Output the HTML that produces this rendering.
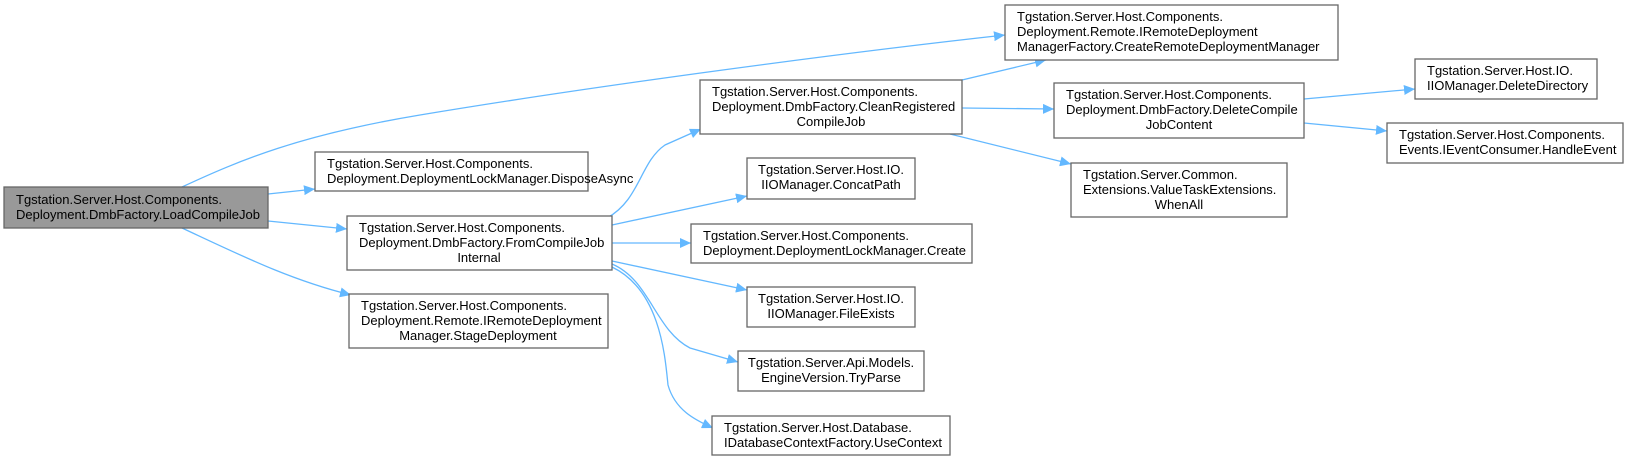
<!DOCTYPE html>
<html><head><meta charset="utf-8"><style>
html,body{margin:0;padding:0;background:#fff;}
svg{display:block;}
text{font-family:"Liberation Sans",Arial,sans-serif;font-size:13px;fill:#000;}
.n{fill:#fff;stroke:#666;stroke-width:1.3;}
.e{fill:none;stroke:#63b8ff;stroke-width:1.3;}
</style></head><body>
<svg width="1631" height="461" viewBox="0 0 1631 461" xmlns="http://www.w3.org/2000/svg">
<defs>
<marker id="a" markerUnits="userSpaceOnUse" markerWidth="12" markerHeight="10" refX="11" refY="5" orient="auto">
<path d="M0,0 L11,5 L0,10 Z" fill="#63b8ff"/>
</marker>
</defs>
<!-- edges -->
<path class="e" marker-end="url(#a)" d="M182,187 C240,160 300,135 420,115 C600,85 850,52 1005,35"/>
<path class="e" marker-end="url(#a)" d="M268,194 L315,189"/>
<path class="e" marker-end="url(#a)" d="M268,221 L347,229"/>
<path class="e" marker-end="url(#a)" d="M182,228 C240,255 290,280 351,295"/>
<path class="e" marker-end="url(#a)" d="M607,218 C640,200 640,162 665,145 L701,129"/>
<path class="e" marker-end="url(#a)" d="M612,225 L747,196"/>
<path class="e" marker-end="url(#a)" d="M612,243 L691,243"/>
<path class="e" marker-end="url(#a)" d="M612,261 L747,290"/>
<path class="e" marker-end="url(#a)" d="M612,264 C650,280 655,330 690,348 L738,362"/>
<path class="e" marker-end="url(#a)" d="M612,267 C660,290 665,355 668,385 C675,410 695,420 713,428"/>
<path class="e" marker-end="url(#a)" d="M962,80 L1046,60"/>
<path class="e" marker-end="url(#a)" d="M962,108 L1054,109"/>
<path class="e" marker-end="url(#a)" d="M950,134 L1071,164"/>
<path class="e" marker-end="url(#a)" d="M1304,99 L1415,89"/>
<path class="e" marker-end="url(#a)" d="M1304,123 L1387,131"/>
<!-- nodes -->
<rect x="4" y="187" width="264" height="41" fill="#999" stroke="#666" stroke-width="1.3"/>
<text x="16" y="204">Tgstation.Server.Host.Components.</text>
<text x="16" y="219">Deployment.DmbFactory.LoadCompileJob</text>

<rect class="n" x="315" y="152" width="273" height="39"/>
<text x="327" y="168">Tgstation.Server.Host.Components.</text>
<text x="327" y="183">Deployment.DeploymentLockManager.DisposeAsync</text>

<rect class="n" x="347" y="216" width="265" height="54"/>
<text x="359" y="232">Tgstation.Server.Host.Components.</text>
<text x="359" y="247">Deployment.DmbFactory.FromCompileJob</text>
<text x="479" y="262" text-anchor="middle">Internal</text>

<rect class="n" x="349" y="294" width="259" height="54"/>
<text x="361" y="310">Tgstation.Server.Host.Components.</text>
<text x="361" y="325">Deployment.Remote.IRemoteDeployment</text>
<text x="478" y="340" text-anchor="middle">Manager.StageDeployment</text>

<rect class="n" x="1005" y="5" width="333" height="55"/>
<text x="1017" y="21">Tgstation.Server.Host.Components.</text>
<text x="1017" y="36">Deployment.Remote.IRemoteDeployment</text>
<text x="1017" y="51">ManagerFactory.CreateRemoteDeploymentManager</text>

<rect class="n" x="700" y="80" width="262" height="54"/>
<text x="712" y="96">Tgstation.Server.Host.Components.</text>
<text x="712" y="111">Deployment.DmbFactory.CleanRegistered</text>
<text x="831" y="126" text-anchor="middle">CompileJob</text>

<rect class="n" x="1054" y="83" width="250" height="55"/>
<text x="1066" y="99">Tgstation.Server.Host.Components.</text>
<text x="1066" y="114">Deployment.DmbFactory.DeleteCompile</text>
<text x="1179" y="129" text-anchor="middle">JobContent</text>

<rect class="n" x="1071" y="163" width="216" height="54"/>
<text x="1083" y="179">Tgstation.Server.Common.</text>
<text x="1083" y="194">Extensions.ValueTaskExtensions.</text>
<text x="1179" y="209" text-anchor="middle">WhenAll</text>

<rect class="n" x="1415" y="59" width="182" height="40"/>
<text x="1427" y="75">Tgstation.Server.Host.IO.</text>
<text x="1427" y="90">IIOManager.DeleteDirectory</text>

<rect class="n" x="1387" y="123" width="236" height="40"/>
<text x="1399" y="139">Tgstation.Server.Host.Components.</text>
<text x="1399" y="154">Events.IEventConsumer.HandleEvent</text>

<rect class="n" x="747" y="158" width="168" height="41"/>
<text x="831" y="174" text-anchor="middle">Tgstation.Server.Host.IO.</text>
<text x="831" y="189" text-anchor="middle">IIOManager.ConcatPath</text>

<rect class="n" x="691" y="224" width="281" height="39"/>
<text x="703" y="240">Tgstation.Server.Host.Components.</text>
<text x="703" y="255">Deployment.DeploymentLockManager.Create</text>

<rect class="n" x="747" y="287" width="168" height="40"/>
<text x="831" y="303" text-anchor="middle">Tgstation.Server.Host.IO.</text>
<text x="831" y="318" text-anchor="middle">IIOManager.FileExists</text>

<rect class="n" x="738" y="351" width="186" height="40"/>
<text x="831" y="367" text-anchor="middle">Tgstation.Server.Api.Models.</text>
<text x="831" y="382" text-anchor="middle">EngineVersion.TryParse</text>

<rect class="n" x="712" y="416" width="238" height="39"/>
<text x="724" y="432">Tgstation.Server.Host.Database.</text>
<text x="724" y="447">IDatabaseContextFactory.UseContext</text>
</svg>
</body></html>
